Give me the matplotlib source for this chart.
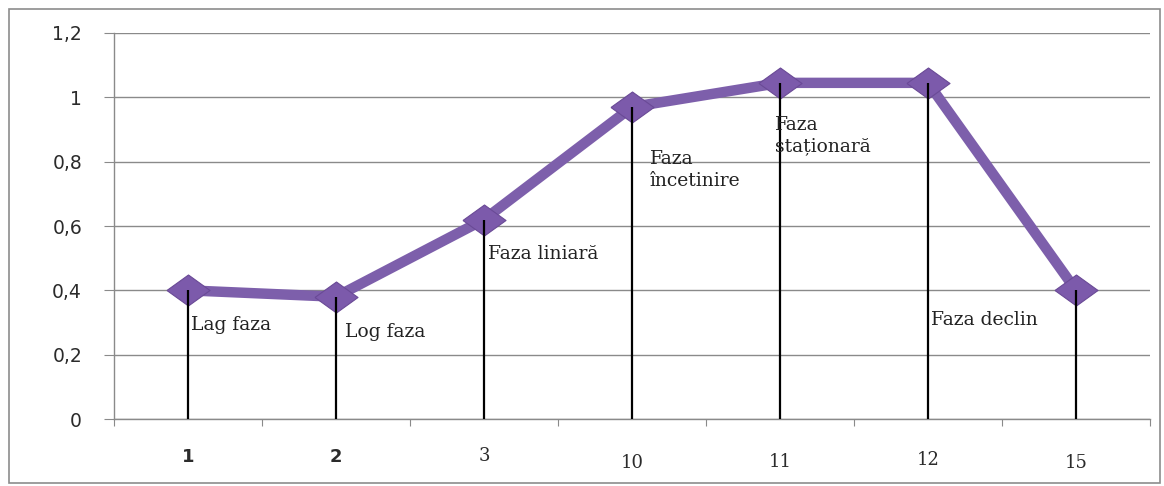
import matplotlib.pyplot as plt
from matplotlib.patches import Rectangle
from matplotlib.transforms import blended_transform_factory

# data
days = ['1', '2', '3', '10', '11', '12', '15']
od = [0.40, 0.38, 0.62, 0.97, 1.045, 1.045, 0.40]
phases = ['Lag faza', 'Log faza', 'Faza liniară', 'Faza\nîncetinire',
          'Faza\nstaționară', 'Faza declin', None]
phase_y = [0.292, 0.270, 0.513, 0.774, 0.880, 0.308, None]
phase_dx = [0.02, 0.06, 0.03, 0.12, -0.035, 0.02, None]
# vertical offset (pixels) of each x label below the axis, as in the original
label_dy = [-38, -38, -37, -44, -43, -41, -44]
label_serif = [False, False, True, True, True, True, True]

purple = '#7d5fab'
grid_col = '#8a8a8a'

fig = plt.figure(figsize=(11.64, 4.86), dpi=100)
ax = fig.add_axes([114/1164, 1 - 419/486, 1036/1164, 386/486])

x = list(range(len(days)))

ax.set_ylim(0, 1.2)
ax.set_xlim(-0.5, len(days) - 0.5)
ax.set_yticks([0, 0.2, 0.4, 0.6, 0.8, 1.0, 1.2])
ax.set_yticklabels(['0', '0,2', '0,4', '0,6', '0,8', '1', '1,2'],
                   fontsize=13.5, color='#2b2b2b')
ax.yaxis.grid(True, color=grid_col, linewidth=1)
ax.set_axisbelow(True)
ax.tick_params(axis='y', length=7, color=grid_col, pad=16)

# category boundaries get the ticks, labels are drawn by hand
ax.set_xticks([i - 0.5 for i in range(len(days) + 1)])
ax.set_xticklabels([])
ax.tick_params(axis='x', length=5, color=grid_col, direction='out')

for s in ['top', 'right']:
    ax.spines[s].set_visible(False)
for s in ['left', 'bottom']:
    ax.spines[s].set_color(grid_col)
    ax.spines[s].set_linewidth(1)

diamond = [(-1, 0), (0, 0.72), (1, 0), (0, -0.72), (-1, 0)]
ax.plot(x, od, color=purple, linewidth=7.5, solid_joinstyle='miter', zorder=3)
ax.plot(x, od, linestyle='none', marker=diamond, markersize=31,
        markerfacecolor='#7c5aab', markeredgecolor='#6a4a96',
        markeredgewidth=0.8, zorder=4)

# drop lines
ax.vlines(x, 0, od, colors='black', linewidth=1.6, zorder=5)

for i, lab in enumerate(phases):
    if lab is None:
        continue
    ax.text(x[i] + phase_dx[i], phase_y[i], lab, fontsize=13.5,
            family='DejaVu Serif', color='#222222', va='center', ha='left',
            linespacing=1.25, zorder=6)

trans = blended_transform_factory(ax.transData, ax.transAxes)
for i, d in enumerate(days):
    ax.annotate(d, xy=(x[i], 0), xycoords=trans,
                xytext=(0, label_dy[i]), textcoords='offset pixels',
                ha='center', va='center', fontsize=13,
                family='DejaVu Serif' if label_serif[i] else 'DejaVu Sans',
                fontweight='normal' if label_serif[i] else 'bold',
                color='#2b2b2b')

fig.patches.append(Rectangle((9/1164, 3/486), 1151/1164, 474/486,
                             transform=fig.transFigure, fill=False,
                             edgecolor='#8c8c8c', linewidth=1.2))

fig.savefig('out.png', dpi=100)
